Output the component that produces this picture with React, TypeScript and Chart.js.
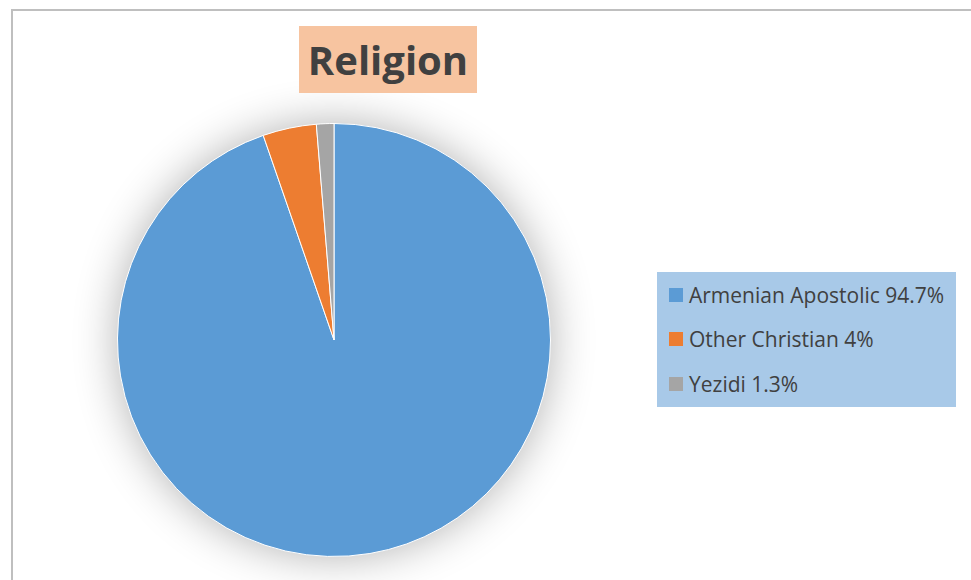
import React, { useEffect, useRef } from "react";
import { Chart, registerables } from "chart.js";

Chart.register(...registerables);

const titleText = "Religion";
const categories = ["Armenian Apostolic", "Other Christian", "Yezidi"];
const shares = [94.7, 4, 1.3];
const legendLabels = ["Armenian Apostolic 94.7%", "Other Christian 4%", "Yezidi 1.3%"];
const colors = ["#5b9bd5", "#ed7d31", "#a5a5a5"];

const FONT = "'Open Sans', 'DejaVu Sans', sans-serif";

const shadowPlugin = {
  id: "pieShadow",
  beforeDatasetsDraw(chart: any) {
    const meta = chart.getDatasetMeta(0);
    const arc = meta.data[0];
    if (!arc) return;
    const { x, y, outerRadius } = arc.getProps(["x", "y", "outerRadius"], true);
    const ctx = chart.ctx;
    ctx.save();
    ctx.shadowColor = "rgba(0,0,0,0.32)";
    ctx.shadowBlur = 45;
    ctx.shadowOffsetX = 0;
    ctx.shadowOffsetY = 0;
    ctx.fillStyle = "#ffffff";
    ctx.beginPath();
    ctx.arc(x, y, outerRadius - 1, 0, Math.PI * 2);
    ctx.fill();
    ctx.restore();
  },
};

export default function App() {
  const ref = useRef<HTMLCanvasElement | null>(null);

  useEffect(() => {
    if (!ref.current) return;
    const chart = new Chart(ref.current, {
      type: "pie",
      data: {
        labels: categories,
        datasets: [
          {
            data: shares,
            backgroundColor: colors,
            borderColor: "#ffffff",
            borderWidth: 1,
          },
        ],
      },
      options: {
        animation: false,
        responsive: false,
        maintainAspectRatio: false,
        layout: { padding: { left: 117, top: 123, right: 420, bottom: 23 } },
        plugins: {
          legend: { display: false },
          title: { display: false },
          tooltip: { enabled: false },
        },
      },
      plugins: [shadowPlugin],
    });
    return () => chart.destroy();
  }, []);

  return (
    <div
      style={{
        position: "fixed",
        left: 0,
        top: 0,
        width: 971,
        height: 580,
        background: "#ffffff",
        overflow: "hidden",
        fontFamily: FONT,
      }}
    >
      <div
        style={{
          position: "absolute",
          left: 11,
          top: 9,
          width: 1000,
          height: 620,
          border: "2px solid #bfbfbf",
          boxSizing: "border-box",
        }}
      />
      <canvas ref={ref} width={971} height={580} style={{ position: "absolute", left: 0, top: 0, width: 971, height: 580 }} />
      <div
        style={{
          position: "absolute",
          left: 299,
          top: 26,
          width: 178,
          height: 67,
          background: "#f7c4a0",
          color: "#404040",
          fontWeight: 700,
          fontSize: 40,
          lineHeight: "67px",
          textAlign: "center",
        }}
      >
        {titleText}
      </div>
      <div
        style={{
          position: "absolute",
          left: 657,
          top: 272,
          width: 299,
          height: 135,
          background: "#a8c9e8",
        }}
      >
        {legendLabels.map((lab, i) => (
          <div
            key={lab}
            style={{
              position: "absolute",
              left: 12,
              top: 22.5 + i * 44.5 - 15,
              height: 30,
              display: "flex",
              alignItems: "center",
              whiteSpace: "nowrap",
            }}
          >
            <span style={{ display: "inline-block", width: 14, height: 14, background: colors[i], marginRight: 6 }} />
            <span style={{ fontSize: 21, color: "#404040" }}>{lab}</span>
          </div>
        ))}
      </div>
    </div>
  );
}
